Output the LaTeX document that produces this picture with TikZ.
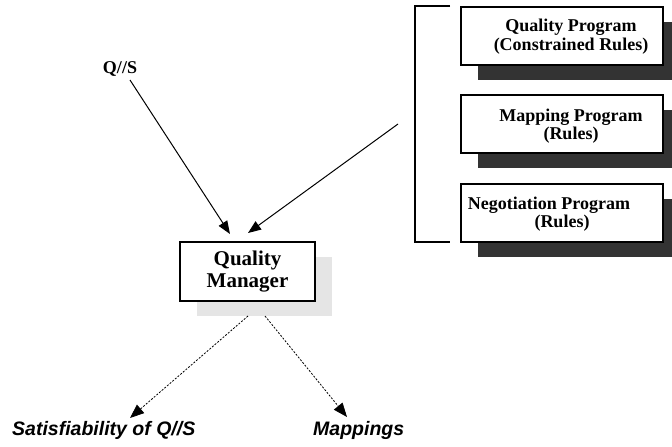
\documentclass[tikz,border=0pt]{standalone}
\usepackage{fontspec}
\setmainfont{Liberation Serif}
\setsansfont{Liberation Sans}
\usetikzlibrary{arrows.meta,shadows}
\definecolor{darkshade}{HTML}{333333}
\definecolor{lightshade}{HTML}{E5E5E5}
\begin{document}
\begin{tikzpicture}[x=1pt,y=-1pt,
  progbox/.style={draw=black, line width=1.1pt, fill=white, minimum width=202pt, minimum height=58pt, inner sep=0pt,
    drop shadow={shadow xshift=17pt, shadow yshift=-15pt, fill=darkshade, opacity=1}},
  mgrbox/.style={draw=black, line width=1.1pt, fill=white, minimum width=135pt, minimum height=59pt, inner sep=0pt,
    drop shadow={shadow xshift=17pt, shadow yshift=-15pt, fill=lightshade, opacity=1}},
  progtext/.style={align=center, inner sep=0pt, font=\fontsize{18}{18.5}\selectfont\bfseries},
  mgrtext/.style={align=center, inner sep=0pt, font=\fontsize{21}{22}\selectfont\bfseries},
  outtext/.style={inner sep=0pt, anchor=base west, font=\fontsize{19.5}{22}\selectfont\sffamily\bfseries\itshape},
  arr/.style={line width=1pt, -{Triangle[length=13pt,width=10pt]}},
  darr/.style={line width=0.8pt, dash pattern=on 2pt off 1.5pt, -{Triangle[length=14pt,width=11pt]}},
  bracket/.style={line width=1.6pt}
]
\useasboundingbox (0,0) rectangle (672,447);

% program boxes
\node[progbox] (p1) at (562,36) {};
\node[progbox] (p2) at (562,124) {};
\node[progbox] (p3) at (562,213) {};
\node[progtext] (t1) at (571,36.5) {Quality Program\\(Constrained Rules)};
\node[progtext] (t2) at (571,126) {Mapping Program\\(Rules)};
\node[progtext] (t3) at (549,214) {Negotiation Program\\\hspace*{26pt}(Rules)};

% bracket
\coordinate (bt) at (450,6);
\coordinate (btl) at (415,6);
\coordinate (bbl) at (415,242);
\coordinate (bb) at (450,242);
\draw[bracket] (bt) -- (btl) -- (bbl) -- (bb);

% quality manager
\node[mgrbox] (qm) at (247.5,271.5) {};
\node[mgrtext] (qmt) at (247.5,271.5) {Quality\\Manager};

% input
\node[inner sep=0pt, anchor=base, font=\fontsize{18}{18}\selectfont\bfseries] (qs) at (120,73) {Q//S};

\coordinate (qsout) at (130,80);
\coordinate (qmin1) at (230,234);
\coordinate (progout) at (398,124);
\coordinate (qmin2) at (248,233);
\draw[arr] (qsout) -- (qmin1);
\draw[arr] (progout) -- (qmin2);

% outputs
\node[outtext] (sat) at (12,435) {Satisfiability of Q//S};
\node[outtext] (map) at (313,435) {Mappings};
\coordinate (qmout1) at (248,316);
\coordinate (qmout2) at (265,316);
\coordinate (satin) at (130,418);
\coordinate (mapin) at (347,417);
\draw[darr] (qmout1) -- (satin);
\draw[darr] (qmout2) -- (mapin);
\end{tikzpicture}
\end{document}
